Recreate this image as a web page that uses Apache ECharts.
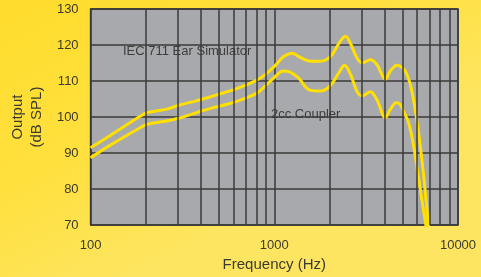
<!DOCTYPE html>
<html>
<head>
	<meta charset="UTF-8">
	<title>output</title>
	<style>
		html, body { margin: 0; padding: 0; }
		#chart { width: 481px; height: 277px; }
	</style>
</head>
<body>
<div id="chart"></div>
<script src="https://cdn.jsdelivr.net/npm/echarts@6/dist/echarts.min.js"></script>
<script>
	// IEC 711 ear simulator curve
	var earFreq = [100, 128, 187, 203, 260, 308, 376, 395, 482, 619, 794, 900, 1019, 1126, 1255, 1358, 1480, 1577, 1786, 2024, 2245, 2441, 2598, 2825, 3006, 3334, 3626, 4021, 4280, 4653, 4849, 5160, 5493, 5847, 6223, 6566, 6902, 7300];
	var earSpl  = [91.5, 94.9, 100.3, 101.2, 102.2, 103.4, 104.5, 104.8, 106.1, 107.8, 110.1, 111.9, 114.5, 116.8, 117.7, 116.8, 115.9, 115.5, 115.5, 116.8, 120.4, 122.4, 120.4, 116.3, 115.0, 115.9, 114.5, 110.5, 112.8, 114.4, 114.1, 112.8, 109.2, 102.1, 92.2, 81.5, 70, 60];
	// 2cc coupler curve
	var cplFreq = [100, 128, 187, 203, 260, 308, 376, 395, 482, 619, 794, 900, 1019, 1116, 1203, 1358, 1481, 1577, 1786, 2024, 2245, 2411, 2598, 2825, 3006, 3334, 3626, 4021, 4280, 4600, 4850, 5052, 5378, 5724, 6093, 6358, 6682, 7100];
	var cplSpl  = [88.7, 92.2, 97.1, 98.0, 98.9, 99.8, 101.2, 101.6, 102.8, 104.3, 106.5, 108.8, 111.4, 112.8, 112.6, 110.8, 108.3, 107.4, 107.2, 108.8, 112.3, 114.4, 111.9, 107.0, 105.9, 107.0, 104.7, 99.8, 102.1, 104.0, 103.5, 101.6, 98.5, 92.2, 83.3, 77.0, 70, 60];
	// minor vertical grid
	var minorFreqs = [200, 300, 400, 500, 600, 700, 800, 900, 2000, 3000, 4000, 5000, 6000, 7000, 8000, 9000];

	var txt = '#3b3a2e', grid = '#3a3a3a', curve = '#ffe000';

	function pairs(xs, ys) {
		var out = [];
		for (var i = 0; i < xs.length; i++) out.push([xs[i], ys[i]]);
		return out;
	}

	var myChart = echarts.init(document.getElementById('chart'));
	var option = {
		backgroundColor: {
			type: 'linear', x: 0, y: 0, x2: 0.3, y2: 1,
			colorStops: [{offset: 0, color: '#ffdc2c'}, {offset: 0.55, color: '#ffe03e'}, {offset: 1, color: '#fde562'}]
		},
		animation: false,
		grid: {
			left: 89, right: 23, top: 9, bottom: 44,
			show: true, backgroundColor: '#a8a9ad', borderColor: '#333', borderWidth: 1.5
		},
		xAxis: {
			type: 'log', logBase: 10, min: 100, max: 10000,
			name: 'Frequency (Hz)', nameLocation: 'middle', nameGap: 29,
			nameTextStyle: {color: txt, fontSize: 15, fontFamily: 'Liberation Sans'},
			axisLine: {show: false}, axisTick: {show: false},
			axisLabel: {color: txt, fontSize: 13, margin: 14, fontFamily: 'Liberation Sans',
				formatter: function (v) { return String(Math.round(v)); }},
			splitLine: {show: true, lineStyle: {color: grid, width: 1.5}}
		},
		yAxis: {
			type: 'value', min: 70, max: 130, interval: 10,
			name: 'Output\n(dB SPL)', nameLocation: 'middle', nameGap: 41,
			nameTextStyle: {color: txt, fontSize: 15, lineHeight: 19, fontFamily: 'Liberation Sans'},
			axisLine: {show: false}, axisTick: {show: false},
			axisLabel: {color: txt, fontSize: 13, margin: 12, padding: [0, 0, 9, 0], fontFamily: 'Liberation Sans'},
			splitLine: {show: true, lineStyle: {color: grid, width: 1.5}}
		},
		graphic: [
			{type: 'text', left: 123, top: 45, silent: true,
				style: {text: 'IEC 711 Ear Simulator', fill: '#3d3d3d', font: '13px "Liberation Sans"'}},
			{type: 'text', left: 271, top: 108, silent: true,
				style: {text: '2cc Coupler', fill: '#3d3d3d', font: '13px "Liberation Sans"'}}
		],
		series: [
			{
				name: 'IEC 711 Ear Simulator', type: 'line', data: pairs(earFreq, earSpl),
				smooth: 0.35, showSymbol: false, clip: true,
				lineStyle: {color: curve, width: 3},
				markLine: {
					silent: true, symbol: 'none', label: {show: false},
					lineStyle: {color: grid, width: 1.5, type: 'solid'},
					data: minorFreqs.map(function (f) { return {xAxis: f}; })
				},
				z: 3
			},
			{
				name: '2cc Coupler', type: 'line', data: pairs(cplFreq, cplSpl),
				smooth: 0.35, showSymbol: false, clip: true,
				lineStyle: {color: curve, width: 3},
				z: 3
			}
		]
	};
	myChart.setOption(option);
	window.onresize = myChart.resize;
</script>
</body>
</html>
